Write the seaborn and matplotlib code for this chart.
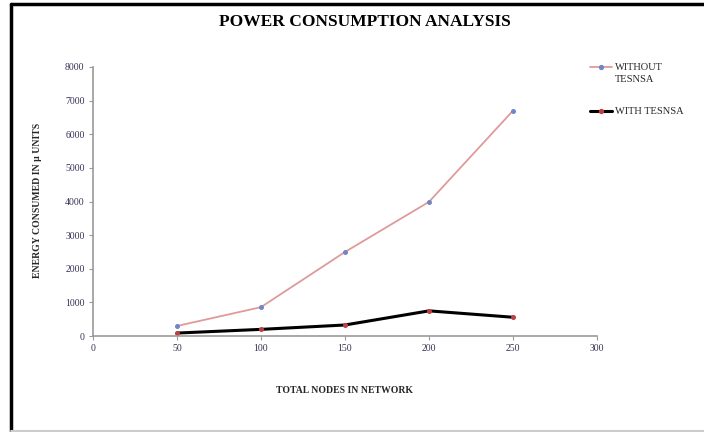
import matplotlib
matplotlib.use("Agg")
import matplotlib.pyplot as plt
import seaborn as sns
import pandas as pd
from matplotlib.lines import Line2D

nodes = [50, 100, 150, 200, 250]
without_tesnsa = [300, 860, 2500, 3990, 6700]
with_tesnsa = [90, 200, 330, 750, 560]
series_names = ["WITHOUT TESNSA", "WITH TESNSA"]
x_ticks = [0, 50, 100, 150, 200, 250, 300]
y_ticks = [0, 1000, 2000, 3000, 4000, 5000, 6000, 7000, 8000]

df = pd.DataFrame({
    "nodes": nodes * 2,
    "energy": without_tesnsa + with_tesnsa,
    "series": [series_names[0]] * len(nodes) + [series_names[1]] * len(nodes),
})

sns.set_style("white")
plt.rcParams["font.family"] = ["Liberation Serif", "DejaVu Serif"]

fig = plt.figure(figsize=(7.04, 4.32), dpi=100)
ax = fig.add_axes([0.132, 0.222, 0.716, 0.623])

red = "#e09a9a"
blue_m = "#6f86c8"
red_m = "#c04040"
sns.lineplot(data=df[df.series == series_names[0]], x="nodes", y="energy",
             color=red, linewidth=1.3, marker="o", markersize=2.8,
             markerfacecolor=blue_m, markeredgecolor=blue_m, ax=ax, legend=False)
sns.lineplot(data=df[df.series == series_names[1]], x="nodes", y="energy",
             color="black", linewidth=2.2, marker="o", markersize=2.8,
             markerfacecolor=red_m, markeredgecolor=red_m, ax=ax, legend=False)

ax.set_xlim(0, 300)
ax.set_ylim(0, 8000)
ax.set_xticks(x_ticks)
ax.set_yticks(y_ticks)
ax.set_xticklabels([str(v) for v in x_ticks], fontsize=7, color="#333355")
ax.set_yticklabels([str(v) for v in y_ticks], fontsize=7, color="#333355")
ax.tick_params(axis="both", length=3, width=0.8, color="#999999", direction="out", bottom=True, left=True, pad=3)
for s in ["top", "right"]:
    ax.spines[s].set_visible(False)
for s in ["left", "bottom"]:
    ax.spines[s].set_color("#999999")
    ax.spines[s].set_linewidth(1.2)
ax.set_xlabel("")
ax.set_ylabel("")

fig.text(0.518, 0.948, "POWER CONSUMPTION ANALYSIS", ha="center", va="center",
         fontsize=12.5, fontweight="bold", color="black")
fig.text(0.053, 0.535, "ENERGY CONSUMED IN µ UNITS", ha="center", va="center",
         rotation=90, fontsize=7, fontweight="bold")
fig.text(0.49, 0.095, "TOTAL NODES IN NETWORK", ha="center", va="center",
         fontsize=7, fontweight="bold")

# legend (manual, in figure coordinates)
W, H = 704.0, 432.0
def legend_entry(y_px, color, lw, mcolor, lines):
    fig.add_artist(Line2D([590 / W, 612 / W], [1 - y_px / H] * 2, transform=fig.transFigure,
                          color=color, linewidth=lw))
    fig.add_artist(Line2D([601 / W], [1 - y_px / H], transform=fig.transFigure, linestyle="none",
                          marker="o", markersize=2.8, markerfacecolor=mcolor, markeredgecolor=mcolor))
    for i, ln in enumerate(lines):
        fig.text(615 / W, 1 - (y_px + i * 13) / H, ln, ha="left", va="center", fontsize=7.5)

legend_entry(67, red, 1.3, blue_m, ["WITHOUT", "TESNSA"])
legend_entry(111, "black", 2.2, red_m, ["WITH TESNSA"])

# page frame
fig.add_artist(Line2D([0.0155, 0.0155], [0.0, 0.99], transform=fig.transFigure, color="black", linewidth=2.5))
fig.add_artist(Line2D([0.0155, 1.0], [0.99, 0.99], transform=fig.transFigure, color="black", linewidth=2.5))
fig.add_artist(Line2D([0.0155, 1.0], [0.002, 0.002], transform=fig.transFigure, color="#cccccc", linewidth=1.5))

fig.savefig("out.png", dpi=100)
